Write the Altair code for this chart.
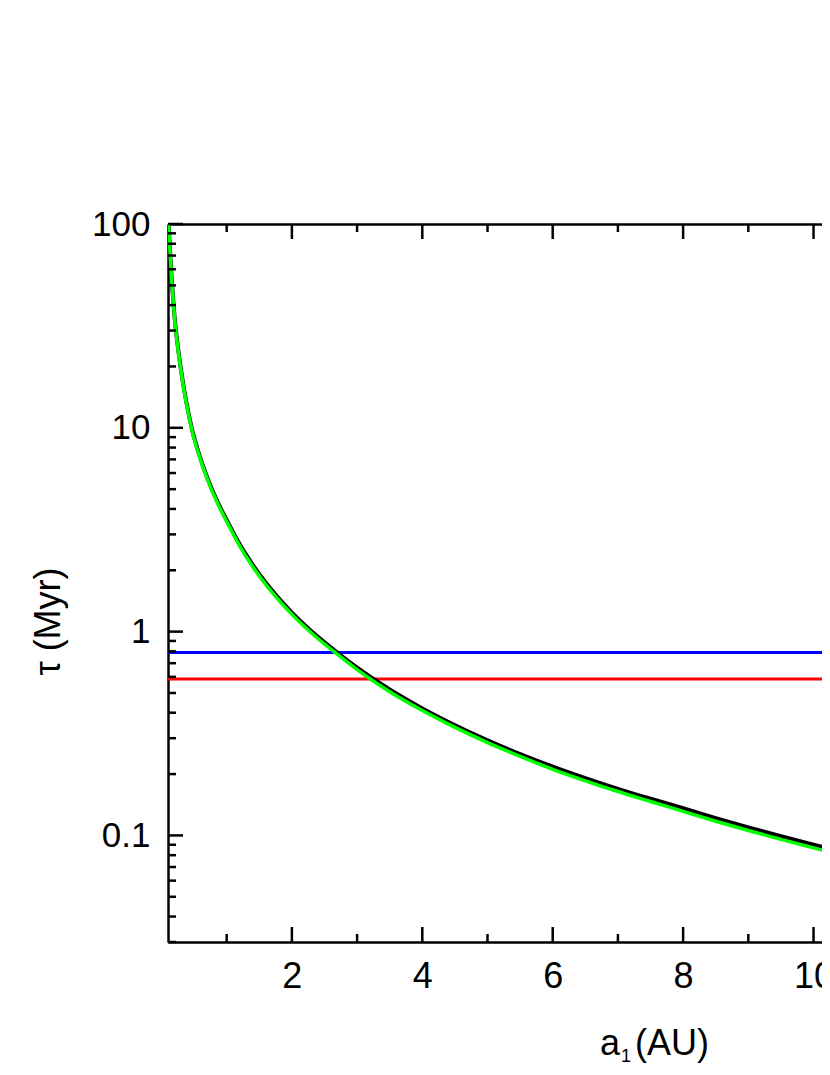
import altair as alt
import pandas as pd

# ---- data ----
a1 = [0.1, 0.11, 0.12, 0.14, 0.16, 0.18, 0.2, 0.25, 0.3, 0.35, 0.4, 0.465,
      0.55, 0.65, 0.75, 0.875, 1.0, 1.2, 1.4, 1.7, 2.0, 2.3, 2.69, 3.0, 3.5,
      4.0, 4.4, 5.0, 5.5, 6.0, 6.5, 7.0, 7.5, 8.0, 8.5, 9.0, 9.5, 10.0, 10.5]
tau_black = [118.5, 100.3, 86.1, 65.7, 52.0, 42.4, 35.2, 25.2, 19.2, 15.2, 12.45, 9.93,
             7.92, 6.32, 5.21, 4.23, 3.53, 2.68, 2.125, 1.585, 1.24, 1.004, 0.7925, 0.666, 0.520,
             0.420, 0.3605, 0.2929, 0.2507, 0.2176, 0.1911, 0.1693, 0.1513, 0.1361, 0.1217,
             0.1095, 0.0991, 0.0901, 0.0823]
tau_green = [116.7, 98.8, 84.8, 64.7, 51.2, 41.8, 34.7, 24.8, 18.9, 15.0, 12.26, 9.78,
             7.80, 6.23, 5.13, 4.17, 3.47, 2.63, 2.08, 1.553, 1.215, 0.984, 0.777, 0.651, 0.507,
             0.410, 0.3515, 0.2856, 0.2444, 0.2111, 0.1854, 0.1642, 0.1468, 0.1313, 0.1174,
             0.1057, 0.0956, 0.0869, 0.0794]
h_values = [0.79, 0.585]
h_colors = ["#0000ff", "#ff0000"]

x_major = [2, 4, 6, 8, 10]
x_minor = [1, 3, 5, 7, 9]
y_major = [0.1, 1, 10, 100]
y_minor = [0.03, 0.04, 0.05, 0.06, 0.07, 0.08, 0.09,
           0.2, 0.3, 0.4, 0.5, 0.6, 0.7, 0.8, 0.9,
           2, 3, 4, 5, 6, 7, 8, 9,
           20, 30, 40, 50, 60, 70, 80, 90]
x_domain = [0.1, 10.13]
y_domain = [0.03, 100]

y_title = "τ (Myr)"
x_title_parts = ["a", "1", "(AU)"]

FONT = "Liberation Sans"
W, H = 654, 718
MAJ, MIN = 15, 8

xs = alt.Scale(domain=x_domain, nice=False, zero=False)
ys = alt.Scale(type="log", domain=y_domain, nice=False)

df_b = pd.DataFrame({"a": a1, "tau": tau_black})
df_g = pd.DataFrame({"a": a1, "tau": tau_green})
df_h = pd.DataFrame({"tau": h_values, "c": h_colors})

hlines = alt.Chart(df_h).mark_rule(strokeWidth=3).encode(
    y=alt.Y("tau:Q", scale=ys, axis=None),
    color=alt.Color("c:N", scale=None),
)

black = alt.Chart(df_b).mark_line(color="black", strokeWidth=4, clip=True,
                                  interpolate="monotone").encode(
    x=alt.X("a:Q", scale=xs, axis=None),
    y=alt.Y("tau:Q", scale=ys, axis=None),
)
green = alt.Chart(df_g).mark_line(color="#00ff00", strokeWidth=3.5, clip=True,
                                  interpolate="monotone").encode(
    x=alt.X("a:Q", scale=xs, axis=None),
    y=alt.Y("tau:Q", scale=ys, axis=None),
)

tick_style = dict(color="black", strokeWidth=2.5)

bottom_major = alt.Chart(pd.DataFrame({"v": x_major})).mark_rule(**tick_style).encode(
    x=alt.X("v:Q", scale=xs, axis=alt.Axis(
        orient="bottom", values=x_major, format="d", ticks=False, tickSize=0,
        domain=True, domainColor="black", domainWidth=2.5, grid=False,
        labelFont=FONT, labelFontSize=36, labelColor="black", labelPadding=17,
        labelFlush=False, labelOverlap=False, labelBaseline="top", title=None)),
    y=alt.value(H), y2=alt.value(H - MAJ),
)
bottom_minor = alt.Chart(pd.DataFrame({"v": x_minor})).mark_rule(**tick_style).encode(
    x=alt.X("v:Q", scale=xs, axis=None),
    y=alt.value(H), y2=alt.value(H - MIN),
)
top_major = alt.Chart(pd.DataFrame({"v": x_major})).mark_rule(**tick_style).encode(
    x=alt.X("v:Q", scale=xs, axis=alt.Axis(
        orient="top", values=x_major, ticks=False, tickSize=0, labels=False,
        domain=True, domainColor="black", domainWidth=2.5, grid=False, title=None)),
    y=alt.value(0), y2=alt.value(MAJ),
)
top_minor = alt.Chart(pd.DataFrame({"v": x_minor})).mark_rule(**tick_style).encode(
    x=alt.X("v:Q", scale=xs, axis=None),
    y=alt.value(0), y2=alt.value(MIN),
)
left_major = alt.Chart(pd.DataFrame({"v": y_major})).mark_rule(**tick_style).encode(
    y=alt.Y("v:Q", scale=ys, axis=alt.Axis(
        orient="left", values=y_major, format="~g", ticks=False, tickSize=0,
        domain=True, domainColor="black", domainWidth=2.5, grid=False,
        labelFont=FONT, labelFontSize=35, labelColor="black", labelPadding=18,
        labelFlush=False, labelOverlap=False, labelBaseline="middle",
        title=y_title, titleFont=FONT, titleFontSize=36, titleFontWeight="normal",
        titleColor="black", titleAngle=270, titleAlign="center",
        titleBaseline="alphabetic", titleX=-109, titleY=397)),
    x=alt.value(0), x2=alt.value(MAJ),
)
left_minor = alt.Chart(pd.DataFrame({"v": y_minor})).mark_rule(**tick_style).encode(
    y=alt.Y("v:Q", scale=ys, axis=None),
    x=alt.value(0), x2=alt.value(MIN),
)


def label(txt, x, y, size):
    return alt.Chart(pd.DataFrame({"t": [txt]})).mark_text(
        font=FONT, fontSize=size, align="left", baseline="alphabetic", color="black"
    ).encode(text="t:N", x=alt.value(x), y=alt.value(y))


t_a = label(x_title_parts[0], 432, 831, 36)
t_1 = label(x_title_parts[1], 453, 838, 18)
t_au = label(x_title_parts[2], 467, 831, 36)

chart = alt.layer(
    hlines, black, green,
    bottom_major, bottom_minor, top_major, top_minor, left_major, left_minor,
    t_a, t_1, t_au,
).resolve_axis(x="independent", y="independent").properties(
    width=W, height=H,
    autosize=alt.AutoSizeParams(type="none"),
    padding={"left": 160, "top": 216, "right": 0, "bottom": 124},
).configure_view(strokeWidth=0)

chart.save("out.html", embed_options={"renderer": "svg", "actions": False})
